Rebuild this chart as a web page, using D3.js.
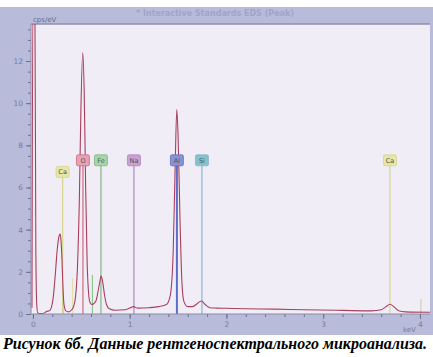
<!DOCTYPE html>
<html><head><meta charset="utf-8">
<script src="https://cdn.jsdelivr.net/npm/d3@7"></script>
<style>
html,body{margin:0;padding:0;background:#fff;}
svg{display:block;}
</style></head>
<body>
<svg id="chart" width="433" height="357"></svg>
<script>
// Spectrum (keV, cps/eV)
const energies = [-0.01,0.0,0.02,0.03,0.04,0.05,0.08,0.12,0.14,0.17,0.19,0.21,0.23,0.25,0.27,0.28,0.29,0.30,0.31,0.32,0.34,0.37,0.40,0.42,0.44,0.46,0.48,0.495,0.515,0.53,0.545,0.56,0.575,0.59,0.61,0.63,0.65,0.67,0.69,0.705,0.72,0.74,0.76,0.79,0.85,0.95,1.0,1.04,1.08,1.2,1.3,1.38,1.42,1.45,1.47,1.487,1.50,1.52,1.54,1.56,1.60,1.65,1.70,1.74,1.78,1.83,1.9,2.0,2.2,2.5,2.8,3.2,3.5,3.6,3.65,3.69,3.73,3.78,3.85,4.12];
const counts   = [0.3,15,15,3,0.4,0.05,0.02,0.05,0.12,0.15,0.3,0.8,1.8,3.0,3.7,3.8,3.5,2.6,1.3,0.5,0.15,0.1,0.2,0.35,0.8,2.2,5.5,9.5,12.4,10.5,6.0,2.5,1.0,0.55,0.45,0.5,0.6,1.0,1.5,1.8,1.55,0.9,0.45,0.25,0.18,0.2,0.28,0.35,0.28,0.3,0.35,0.45,0.9,3.0,7.0,9.7,8.5,4.5,1.5,0.6,0.35,0.35,0.5,0.62,0.45,0.3,0.28,0.27,0.25,0.23,0.2,0.17,0.15,0.2,0.35,0.46,0.35,0.15,0.1,0.08];

// Element markers
const markerLabels   = ["Ca","O","Fe","Na","Al","Si","Ca"];
const markerEnergies = [0.307,0.517,0.703,1.044,1.488,1.747,3.69];
const markerLevels   = [6.55,7.1,7.1,7.1,7.1,7.1,7.1];
const markerFills    = ["#e6e6a6","#e6a2b4","#a6d6a8","#c8a2d2","#8a92d2","#84c2ca","#e6e6a6"];
const markerStrokes  = ["#d6d690","#d06a7e","#84b484","#b484c4","#5e6ec4","#8cb4d0","#d6d690"];

// Minor marker lines
const minorEnergies = [0.31,0.41,0.615,4.01];
const minorHeights  = [1.1,1.7,1.85,0.7];
const minorColors   = ["#d8b070","#e0e0a8","#8cc88c","#d0d0b0"];

const xTicks = [0,1,2,3,4];
const yTicks = [0,2,4,6,8,10,12];

const svg = d3.select("#chart");
const W = 433, H = 357;
const L = 31, R = 430, T = 24, B = 314;

// outer background
svg.append("rect").attr("x",0).attr("y",7).attr("width",W).attr("height",328).attr("fill","#b9bbda");
svg.append("text").attr("x",215).attr("y",16).attr("text-anchor","middle")
  .attr("font-family","DejaVu Sans").attr("font-size",8).attr("font-weight","bold")
  .attr("fill","#a2a4c8").text("* Interactive Standards EDS (Peak)");

const x = d3.scaleLinear().domain([-0.02,4.12]).range([L, L + 4.14*96.75]);
const y = d3.scaleLinear().domain([0,12]).range([B, 61]);

// plot area
svg.append("rect").attr("x",L).attr("y",T).attr("width",R-L).attr("height",B-T).attr("fill","#f1edf7");
svg.append("line").attr("x1",L).attr("x2",R).attr("y1",T).attr("y2",T).attr("stroke","#8e90ae").attr("stroke-width",1.5);

svg.append("defs").append("clipPath").attr("id","clip")
  .append("rect").attr("x",L).attr("y",T).attr("width",R-L).attr("height",B-T);

const g = svg.append("g").attr("clip-path","url(#clip)");

// minor lines
g.selectAll(".minor").data(minorEnergies).join("line")
  .attr("x1",d=>x(d)).attr("x2",d=>x(d))
  .attr("y1",(d,i)=>y(minorHeights[i])).attr("y2",y(0))
  .attr("stroke",(d,i)=>minorColors[i]).attr("stroke-width",1.2);

// marker lines
g.selectAll(".mk").data(markerEnergies).join("line")
  .attr("x1",d=>x(d)).attr("x2",d=>x(d))
  .attr("y1",(d,i)=>y(markerLevels[i])).attr("y2",y(0))
  .attr("stroke",(d,i)=>markerStrokes[i])
  .attr("stroke-width",(d,i)=>markerLabels[i]==="Al"?2:1.2);

// spectrum
const pts = energies.map((e,i)=>[e,counts[i]]);
g.append("path").datum(pts)
  .attr("d", d3.line().x(d=>x(d[0])).y(d=>y(d[1])).curve(d3.curveMonotoneX))
  .attr("fill","none").attr("stroke","#a8405c").attr("stroke-width",1.1);

// marker labels
const lab = svg.selectAll(".lab").data(markerEnergies).join("g")
  .attr("transform",(d,i)=>`translate(${x(d)},${y(markerLevels[i])-4})`);
lab.append("rect").attr("x",-6.5).attr("y",-5.5).attr("width",13).attr("height",11).attr("rx",1.5)
  .attr("fill",(d,i)=>markerFills[i]).attr("stroke",(d,i)=>markerStrokes[i]).attr("stroke-width",0.8);
lab.append("text").attr("text-anchor","middle").attr("y",2.5)
  .attr("font-family","DejaVu Sans").attr("font-size",6.5).attr("fill","#555")
  .text((d,i)=>markerLabels[i]);

// axes
const xAxis = svg.append("g").attr("transform",`translate(0,${B})`)
  .call(d3.axisBottom(x).tickValues(d3.range(0,4.11,0.2)).tickSize(3).tickFormat(""));
xAxis.append("g").call(d3.axisBottom(x).tickValues(xTicks).tickSize(5).tickFormat(d3.format("d")));
svg.selectAll("g .domain").remove();
svg.append("line").attr("x1",L).attr("x2",R).attr("y1",B).attr("y2",B).attr("stroke","#8a8ca8");

const yAxis = svg.append("g").attr("transform",`translate(${L},0)`)
  .call(d3.axisLeft(y).tickValues(d3.range(0,13.6,0.5)).tickSize(3).tickFormat(""));
yAxis.append("g").call(d3.axisLeft(y).tickValues(yTicks).tickSize(5).tickFormat(d3.format("d")));
yAxis.selectAll(".domain").remove();
svg.append("line").attr("x1",L).attr("x2",L).attr("y1",T).attr("y2",B).attr("stroke","#8a8ca8");

svg.selectAll(".tick line").attr("stroke","#6e7090");
svg.selectAll(".tick text").attr("fill","#7a7c98").attr("font-family","DejaVu Sans").attr("font-size",7.5);

svg.append("text").attr("x",33).attr("y",22).attr("font-family","DejaVu Sans").attr("font-size",7)
  .attr("fill","#6a6c88").text("cps/eV");
svg.append("text").attr("x",403).attr("y",332).attr("font-family","DejaVu Sans").attr("font-size",7)
  .attr("fill","#7a7c98").text("keV");

// caption
svg.append("text").attr("x",3).attr("y",349)
  .attr("font-family","Liberation Serif").attr("font-size",16).attr("font-style","italic").attr("font-weight","bold")
  .attr("textLength",424).attr("lengthAdjust","spacingAndGlyphs")
  .attr("fill","#000").text("Рисунок 6б. Данные рентгеноспектрального микроанализа.");
</script>
</body></html>
